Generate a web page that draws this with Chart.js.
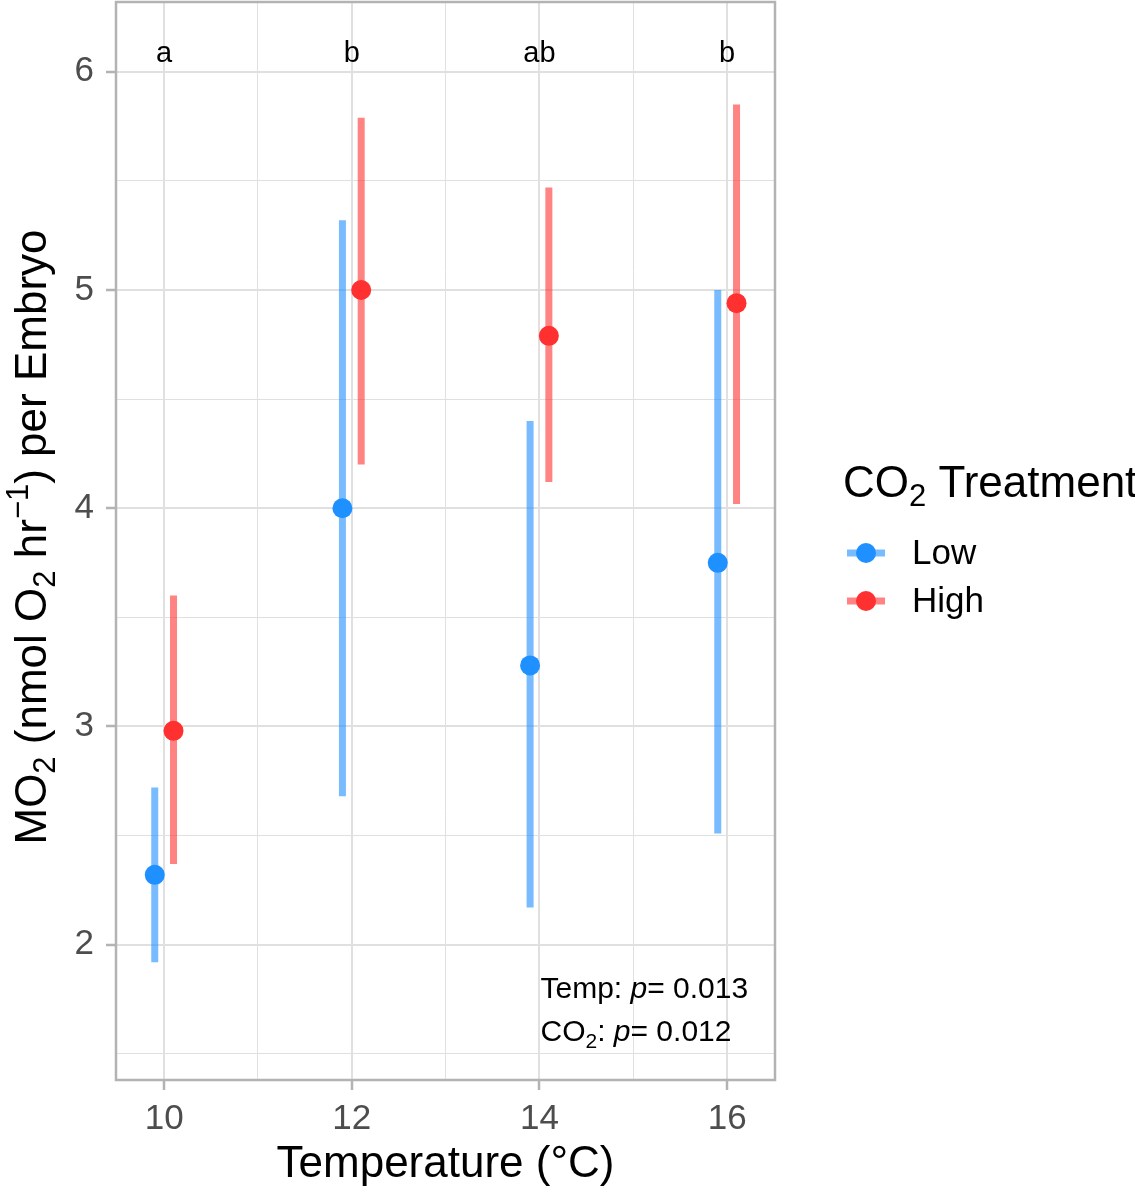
<!DOCTYPE html>
<html>
<head>
<meta charset="utf-8">
<script src="https://cdn.jsdelivr.net/npm/chart.js@4.4.1/dist/chart.umd.min.js"></script>
<style>
  html, body { margin: 0; padding: 0; background: #fff; }
  #wrap { width: 1135px; height: 1193px; position: relative; }
</style>
</head>
<body>
<div id="wrap"><canvas id="mo2-chart"></canvas></div>
<script>
// Temperature groups and MO2 per embryo (mean with error range)
const temps = [10, 12, 14, 16];
const lowMean = [2.32, 4.00, 3.28, 3.75];
const lowLower = [1.92, 2.68, 2.17, 2.51];
const lowUpper = [2.72, 5.32, 4.40, 5.00];
const highMean = [2.98, 5.00, 4.79, 4.94];
const highLower = [2.37, 4.20, 4.12, 4.02];
const highUpper = [3.60, 5.79, 5.47, 5.85];
const sigLetters = ['a', 'b', 'ab', 'b'];

// Axis ticks
const xMajor = [10, 12, 14, 16];
const xMinor = [11, 13, 15];
const yMajor = [2, 3, 4, 5, 6];
const yMinor = [1.5, 2.5, 3.5, 4.5, 5.5];

const FONT = '"Liberation Sans", Arial, Helvetica, sans-serif';
const BLUE = '#1E90FF';
const BLUE_BAR = 'rgba(30,144,255,0.6)';
const RED = '#FF3030';
const RED_BAR = 'rgba(255,48,48,0.6)';
const GRID = '#e0e0e0';
const FRAME = '#b3b3b3';
const DODGE = 0.1;

// draws a run of text pieces (sub/superscripts, italics) starting at x
function drawRich(ctx, parts, x, y, align) {
    let total = 0;
    parts.forEach(p => {
        ctx.font = (p.style || 'normal') + ' ' + p.size + 'px ' + FONT;
        p.w = ctx.measureText(p.t).width;
        total += p.w;
    });
    let cx = align === 'center' ? x - total / 2 : x;
    ctx.textAlign = 'left';
    ctx.textBaseline = 'alphabetic';
    parts.forEach(p => {
        ctx.font = (p.style || 'normal') + ' ' + p.size + 'px ' + FONT;
        ctx.fillText(p.t, cx, y + (p.dy || 0));
        cx += p.w;
    });
}

const decorPlugin = {
    id: 'decor',
    beforeDatasetsDraw(chart) {
        const { ctx, scales: { x, y } } = chart;
        ctx.save();
        ctx.lineWidth = 7;
        ctx.lineCap = 'butt';
        temps.forEach((t, i) => {
            ctx.strokeStyle = BLUE_BAR;
            ctx.beginPath();
            ctx.moveTo(x.getPixelForValue(t - DODGE), y.getPixelForValue(lowLower[i]));
            ctx.lineTo(x.getPixelForValue(t - DODGE), y.getPixelForValue(lowUpper[i]));
            ctx.stroke();
            ctx.strokeStyle = RED_BAR;
            ctx.beginPath();
            ctx.moveTo(x.getPixelForValue(t + DODGE), y.getPixelForValue(highLower[i]));
            ctx.lineTo(x.getPixelForValue(t + DODGE), y.getPixelForValue(highUpper[i]));
            ctx.stroke();
        });
        ctx.restore();
    },
    afterDraw(chart) {
        const { ctx, chartArea: a, scales: { x, y } } = chart;
        ctx.save();

        // panel frame
        ctx.strokeStyle = FRAME;
        ctx.lineWidth = 2.5;
        ctx.strokeRect(a.left, a.top, a.right - a.left, a.bottom - a.top);

        // significance letters
        ctx.fillStyle = '#000';
        ctx.font = '29px ' + FONT;
        ctx.textAlign = 'center';
        ctx.textBaseline = 'alphabetic';
        temps.forEach((t, i) => {
            ctx.fillText(sigLetters[i], x.getPixelForValue(t), y.getPixelForValue(6.046));
        });

        // p-value annotation
        const ax = x.getPixelForValue(14) + 1;
        drawRich(ctx, [
            { t: 'Temp: ', size: 30 },
            { t: 'p', size: 30, style: 'italic' },
            { t: '= 0.013', size: 30 }
        ], ax, y.getPixelForValue(1.756));
        drawRich(ctx, [
            { t: 'CO', size: 30 },
            { t: '2', size: 21, dy: 7 },
            { t: ': ', size: 30 },
            { t: 'p', size: 30, style: 'italic' },
            { t: '= 0.012', size: 30 }
        ], ax, y.getPixelForValue(1.558));

        // y axis title
        ctx.save();
        ctx.translate(30, (a.top + a.bottom) / 2 - 4);
        ctx.rotate(-Math.PI / 2);
        drawRich(ctx, [
            { t: 'MO', size: 44 },
            { t: '2', size: 31, dy: 9 },
            { t: ' (nmol O', size: 44 },
            { t: '2', size: 31, dy: 9 },
            { t: ' hr', size: 44 },
            { t: '\u22121', size: 31, dy: -18 },
            { t: ') per Embryo', size: 44 }
        ], 0, 16, 'center');
        ctx.restore();

        // legend
        drawRich(ctx, [
            { t: 'CO', size: 44 },
            { t: '2', size: 31, dy: 9 },
            { t: ' Treatment', size: 44 }
        ], 843, 497);
        [['Low', BLUE, BLUE_BAR, 553], ['High', RED, RED_BAR, 601]].forEach(([label, c, bar, ly]) => {
            ctx.strokeStyle = bar;
            ctx.lineWidth = 7;
            ctx.beginPath();
            ctx.moveTo(847, ly);
            ctx.lineTo(885, ly);
            ctx.stroke();
            ctx.fillStyle = c;
            ctx.beginPath();
            ctx.arc(866, ly, 10, 0, Math.PI * 2);
            ctx.fill();
            ctx.fillStyle = '#000';
            ctx.font = '35px ' + FONT;
            ctx.textAlign = 'left';
            ctx.textBaseline = 'middle';
            ctx.fillText(label, 912, ly + 1);
        });
        ctx.restore();
    }
};

const ctx = document.getElementById('mo2-chart').getContext('2d');
new Chart(ctx, {
    type: 'scatter',
    data: {
        datasets: [
            {
                label: 'Low',
                data: temps.map((t, i) => ({ x: t - DODGE, y: lowMean[i] })),
                backgroundColor: BLUE,
                borderWidth: 0,
                pointRadius: 10,
            },
            {
                label: 'High',
                data: temps.map((t, i) => ({ x: t + DODGE, y: highMean[i] })),
                backgroundColor: RED,
                borderWidth: 0,
                pointRadius: 10,
            }
        ]
    },
    options: {
        responsive: true,
        maintainAspectRatio: false,
        animation: false,
        layout: { autoPadding: false, padding: { top: 2, right: 360, bottom: 0, left: 0 } },
        plugins: {
            legend: { display: false },
            tooltip: { enabled: false }
        },
        scales: {
            x: {
                type: 'linear',
                min: 9.487,
                max: 16.51,
                afterBuildTicks: s => { s.ticks = [...xMajor, ...xMinor].sort((a, b) => a - b).map(v => ({ value: v })); },
                afterFit: s => { s.height = 113; s.paddingLeft = 0; s.paddingRight = 0; },
                grid: {
                    color: GRID,
                    lineWidth: c => xMajor.includes(c.tick.value) ? 2 : 1,
                    tickLength: 10,
                    tickWidth: 2.5,
                    tickColor: c => xMajor.includes(c.tick.value) ? FRAME : 'rgba(0,0,0,0)'
                },
                border: { display: false },
                ticks: {
                    autoSkip: false,
                    maxRotation: 0,
                    padding: 8,
                    color: '#4d4d4d',
                    font: { size: 35, family: FONT },
                    callback: v => xMajor.includes(v) ? String(v) : ''
                },
                title: {
                    display: true,
                    text: 'Temperature (°C)',
                    color: '#000',
                    font: { size: 44, family: FONT },
                    padding: { top: 0, bottom: 2 }
                }
            },
            y: {
                type: 'linear',
                min: 1.38,
                max: 6.32,
                afterBuildTicks: s => { s.ticks = [...yMajor, ...yMinor].sort((a, b) => a - b).map(v => ({ value: v })); },
                afterFit: s => { s.width = 116; s.paddingTop = 0; s.paddingBottom = 0; },
                grid: {
                    color: GRID,
                    lineWidth: c => yMajor.includes(c.tick.value) ? 2 : 1,
                    tickLength: 10,
                    tickWidth: 2.5,
                    tickColor: c => yMajor.includes(c.tick.value) ? FRAME : 'rgba(0,0,0,0)'
                },
                border: { display: false },
                ticks: {
                    autoSkip: false,
                    padding: 12,
                    color: '#4d4d4d',
                    font: { size: 35, family: FONT },
                    callback: v => yMajor.includes(v) ? String(v) : ''
                }
            }
        }
    },
    plugins: [decorPlugin]
});
</script>
</body>
</html>
